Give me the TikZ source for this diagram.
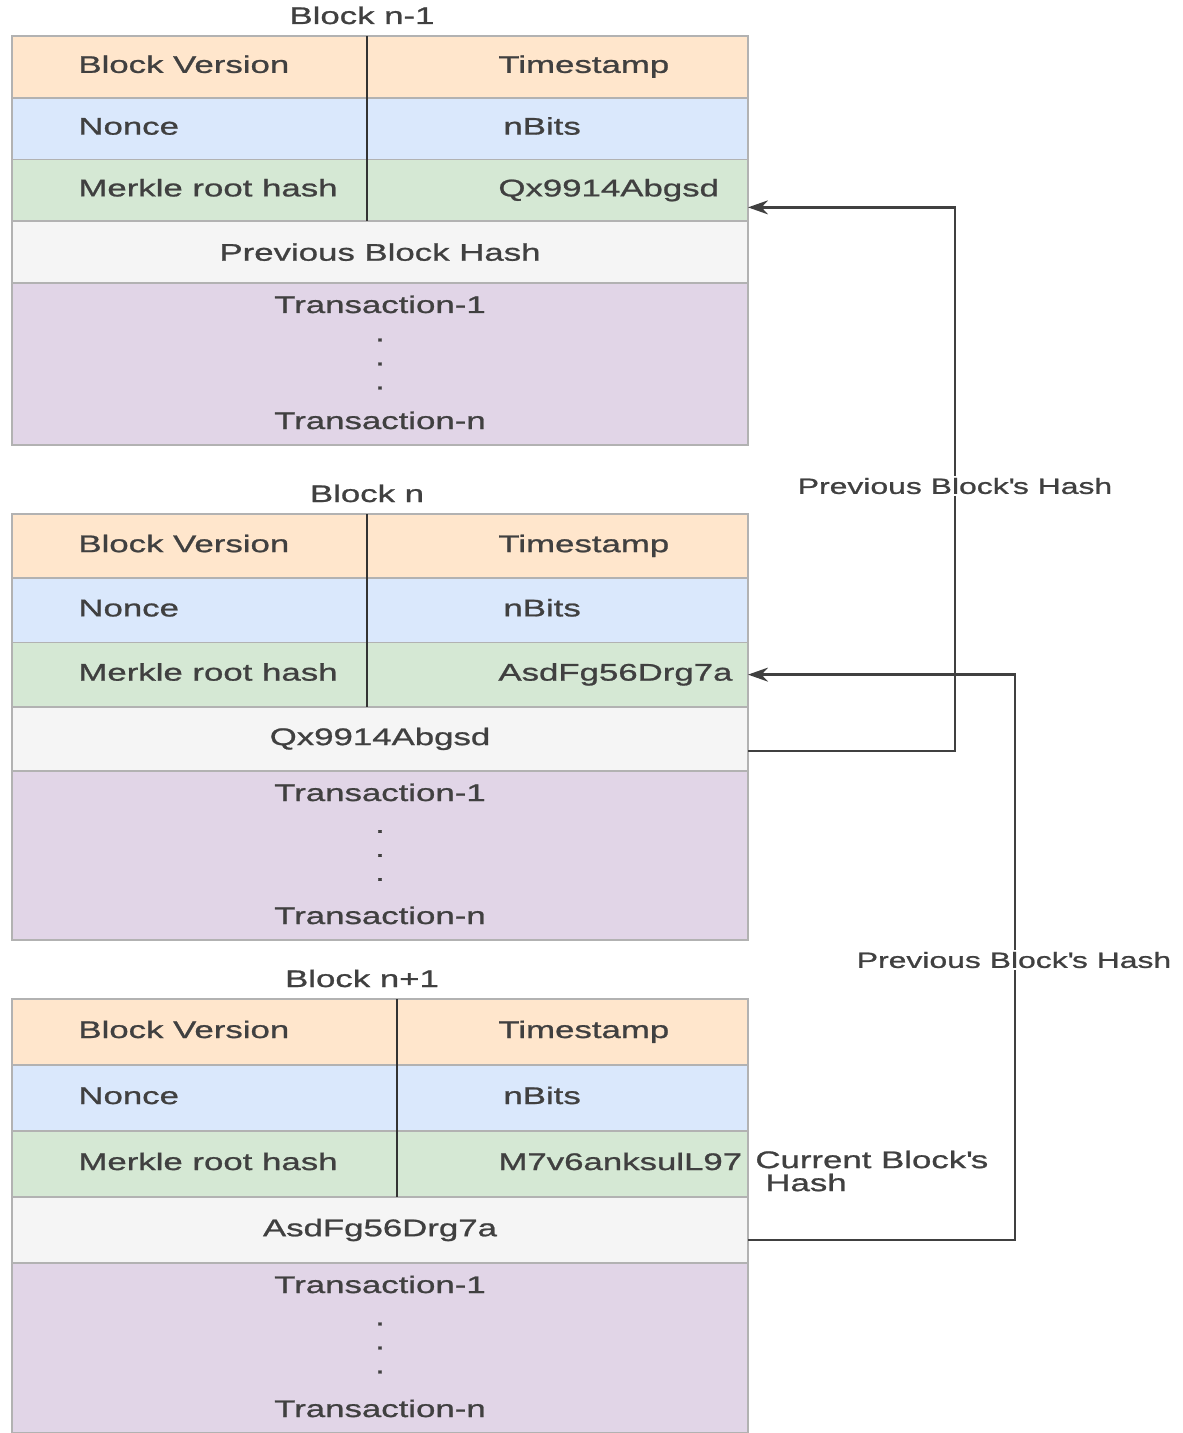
\documentclass[tikz,border=0pt]{standalone}
\usepackage{fontspec}
\setmainfont{Liberation Sans}[FakeStretch=1.45, FakeBold=1]
\usetikzlibrary{arrows.meta,positioning,calc}
\definecolor{verfill}{HTML}{FFE6CC}
\definecolor{noncefill}{HTML}{DAE8FC}
\definecolor{merklefill}{HTML}{D5E8D4}
\definecolor{prevfill}{HTML}{F5F5F5}
\definecolor{txfill}{HTML}{E1D5E7}
\newcommand{\celltext}{\fontsize{12}{14}\selectfont}
\newcommand{\linktext}{\fontsize{11}{13}\selectfont}
\tikzset{
    cellrow/.style={draw=black!30, line width=0.8pt, minimum width=368pt, inner sep=0pt,
        outer sep=0pt, font=\celltext, text=black!75},
    celltxt/.style={inner sep=0pt, font=\celltext, text=black!75, text height=8.6pt, text depth=2.6pt},
    divline/.style={draw=black!80, line width=1.2pt},
    hasharrow/.style={-{Stealth[length=10pt,width=7pt]}, draw=black!75, line width=1.2pt},
    linklabel/.style={fill=white, inner sep=1pt, font=\linktext, text=black!75}
}

\begin{document}
\begin{tikzpicture}[x=0.5pt, y=-0.5pt]
\useasboundingbox (0,0) rectangle (1182,1433);
% the three blocks of the chain
\foreach \b/\t/\h/\p/\d/\ttl/\tx/\hv/\pv in {
    1/36/61.75/162/367/{Block n-1}/362/Qx9914Abgsd/{Previous Block Hash},
    2/514/64.25/169/367/{Block n}/367/AsdFg56Drg7a/Qx9914Abgsd,
    3/999/66/170/397/{Block n+1}/362/M7v6anksulL97/AsdFg56Drg7a}{
  \node[celltxt] (h\b) at (\tx,{\t-18}) {\ttl};
  \node[cellrow, fill=verfill, minimum height=\h*0.5pt, anchor=north west] (v\b) at (12,\t) {};
  \node[cellrow, fill=noncefill, minimum height=\h*0.5pt, below=0pt of v\b] (n\b) {};
  \node[cellrow, fill=merklefill, minimum height=\h*0.5pt, below=0pt of n\b] (m\b) {};
  \node[cellrow, fill=prevfill, minimum height=\h*0.5pt, below=0pt of m\b] (w\b) {\pv};
  \node[cellrow, fill=txfill, minimum height=\p*0.5pt, below=0pt of w\b] (t\b) {};
  \coordinate (dv\b) at (\d,0);
  \draw[divline] (v\b.north -| dv\b) -- (m\b.south -| dv\b);
  \node[celltxt, right=33pt of v\b.west] (vl\b) {Block Version};
  \node[celltxt, right=243pt of v\b.west] (vr\b) {Timestamp};
  \node[celltxt, right=33pt of n\b.west] (nl\b) {Nonce};
  \node[celltxt, right=245.5pt of n\b.west] (nr\b) {nBits};
  \node[celltxt, right=33pt of m\b.west] (ml\b) {Merkle root hash};
  \node[celltxt, right=243pt of m\b.west] (mr\b) {\hv};
  \node[celltxt] (ta\b) at ($(t\b.north)+(0,24)$) {Transaction-1};
  \node[celltxt, align=center, text height=, text depth=, font=\fontsize{12}{12}\selectfont] (td\b) at (t\b.center) {.\\.\\.};
  \node[celltxt] (tz\b) at ($(t\b.south)+(0,-22)$) {Transaction-n};
}
% hash links
\draw[hasharrow] ([yshift=-6pt]w2.east) -- ++(207,0) |- ([yshift=-8.5pt]m1.east);
\draw[hasharrow] ([yshift=-5pt]w3.east) -- ++(267,0) |- (m2.east);
\node[linklabel] (lb1) at (955,486) {Previous Block\textquotesingle s Hash};
\node[linklabel] (lb2) at (1014,960) {Previous Block\textquotesingle s Hash};
\node[celltxt, align=left, anchor=west, text height=, text depth=, font=\fontsize{12}{11.5}\selectfont] (cur) at (755,1171) {Current Block\textquotesingle s\\\hspace{5pt}Hash};
\end{tikzpicture}
\end{document}
